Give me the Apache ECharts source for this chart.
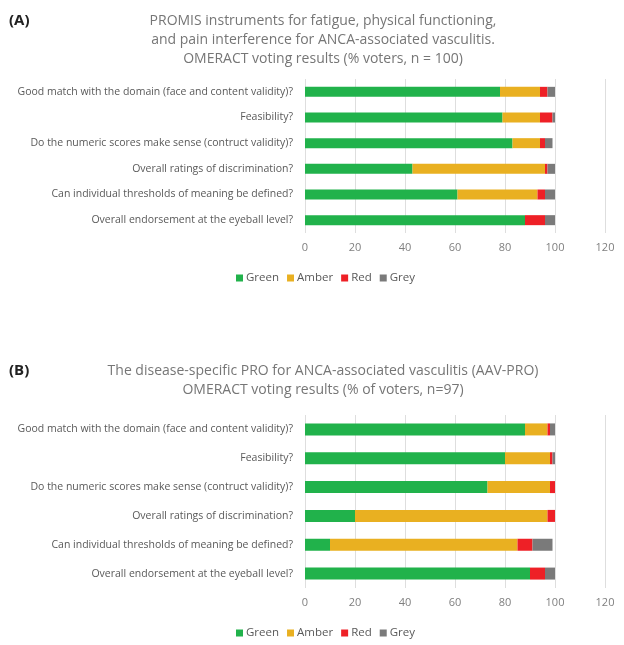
<!DOCTYPE html>
<html><head><meta charset="utf-8">
<script src="https://cdn.jsdelivr.net/npm/echarts@6/dist/echarts.min.js"></script>
<style>html,body{margin:0;padding:0;background:#fff}#c{width:624px;height:645px}</style>
</head><body><div id="c"></div>
<script>
const categories = [
  "Good match with the domain (face and content validity)?",
  "Feasibility?",
  "Do the numeric scores make sense (contruct validity)?",
  "Overall ratings of discrimination?",
  "Can individual thresholds of meaning be defined?",
  "Overall endorsement at the eyeball level?"
];
const seriesNames = ["Green", "Amber", "Red", "Grey"];
const colors = ["#21b24b", "#e9b021", "#ee2026", "#7a7a7a"];
// Chart A (PROMIS, n = 100)
const greenA = [78, 79, 83, 43, 61, 88];
const amberA = [16, 15, 11, 53, 32, 0];
const redA   = [3, 5, 2, 1, 3, 8];
const greyA  = [3, 1, 3, 3, 4, 4];
// Chart B (AAV-PRO, n = 97)
const greenB = [88, 80, 73, 20, 10, 90];
const amberB = [9, 18, 25, 77, 75, 0];
const redB   = [1, 1, 2, 3, 6, 6];
const greyB  = [2, 1, 0, 0, 8, 4];
const xTicks = [0, 20, 40, 60, 80, 100, 120];

const titleA = "PROMIS instruments for fatigue, physical functioning,\nand pain interference for ANCA-associated vasculitis.\nOMERACT voting results (% voters, n = 100)";
const titleB = "The disease-specific PRO for ANCA-associated vasculitis (AAV-PRO)\nOMERACT voting results (% of voters, n=97)";

const font = "Open Sans";
const dataA = [greenA, amberA, redA, greyA];
const dataB = [greenB, amberB, redB, greyB];

function xAxis(gi) {
  return {
    type: 'value', gridIndex: gi, min: xTicks[0], max: xTicks[xTicks.length-1], interval: 20,
    axisLine: {show: false}, axisTick: {show: false},
    axisLabel: {color: '#7f7f7f', fontFamily: font, fontSize: 11, margin: 9},
    splitLine: {lineStyle: {color: '#dedede', width: 1}}
  };
}
function yAxis(gi) {
  return {
    type: 'category', gridIndex: gi, data: categories, inverse: true,
    axisLine: {show: false}, axisTick: {show: false},
    axisLabel: {color: '#595959', fontFamily: font, fontSize: 10.5, margin: 12}
  };
}
const series = [];
[dataA, dataB].forEach((d, gi) => {
  d.forEach((vals, i) => {
    series.push({
      name: seriesNames[i], type: 'bar', stack: 's' + gi,
      xAxisIndex: gi, yAxisIndex: gi, data: vals,
      barWidth: gi === 0 ? 10 : 12,
      itemStyle: {color: colors[i]},
      emphasis: {disabled: true}
    });
  });
});
const legendCommon = {data: seriesNames, left: 231, itemWidth: 7, itemHeight: 7, itemGap: 8, icon: 'rect',
  textStyle: {fontFamily: font, fontSize: 11.5, color: '#595959', padding: [0, 0, 0, -2]}};
const chart = echarts.init(document.getElementById('c'), null, {renderer: 'canvas'});
chart.setOption({
  animation: false,
  color: colors,
  title: [
    {text: titleA, left: 318, top: 7, textAlign: 'center',
     textStyle: {fontFamily: font, fontSize: 14, fontWeight: 'normal', color: '#767676', lineHeight: 19}},
    {text: '(A)', left: 4, top: 8,
     textStyle: {fontFamily: font, fontSize: 15, fontWeight: 'bold', color: '#222'}},
    {text: titleB, left: 318, top: 357, textAlign: 'center',
     textStyle: {fontFamily: font, fontSize: 14, fontWeight: 'normal', color: '#767676', lineHeight: 19}},
    {text: '(B)', left: 4, top: 358,
     textStyle: {fontFamily: font, fontSize: 15, fontWeight: 'bold', color: '#222'}}
  ],
  legend: [
    Object.assign({top: 267}, legendCommon),
    Object.assign({top: 622}, legendCommon)
  ],
  grid: [
    {left: 305, right: 19, top: 79, height: 154},
    {left: 305, right: 19, top: 415, height: 173}
  ],
  xAxis: [xAxis(0), xAxis(1)],
  yAxis: [yAxis(0), yAxis(1)],
  series: series
});
</script></body></html>
